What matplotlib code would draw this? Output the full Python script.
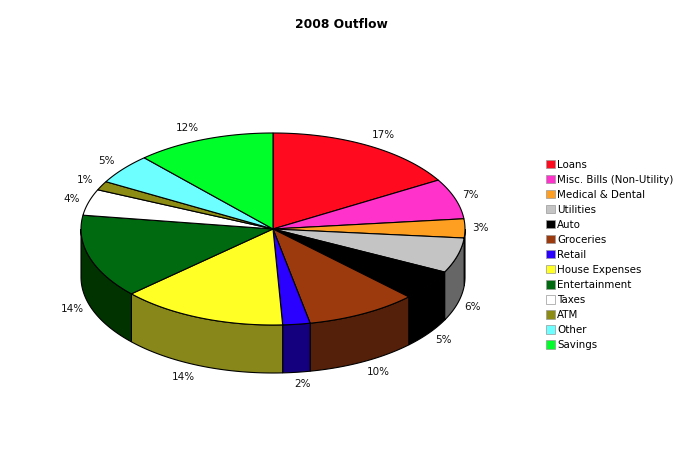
import numpy as np
import matplotlib
matplotlib.use('Agg')
import matplotlib.pyplot as plt
from matplotlib.patches import Patch

CATEGORIES = ['Loans', 'Misc. Bills (Non-Utility)', 'Medical & Dental', 'Utilities',
              'Auto', 'Groceries', 'Retail', 'House Expenses', 'Entertainment',
              'Taxes', 'ATM', 'Other', 'Savings']
# slice sizes, the printed labels are rounded differently
VALUES = [16.5, 6.8, 3.2, 5.9, 5.1, 9.4, 2.3, 14.0, 14.1, 4.4, 1.5, 5.1, 11.7]
LABELS = ['17%', '7%', '3%', '6%', '5%', '10%', '2%', '14%', '14%', '4%', '1%', '5%', '12%']
TOP_COLORS = ['#ff0a1e', '#ff33cc', '#ff9f22', '#c4c4c4', '#000000', '#9c3a0e', '#2a00ff',
              '#ffff26', '#006a10', '#ffffff', '#8c8c14', '#6dffff', '#00ff2a']
SIDE_COLORS = ['#7f0510', '#7f1a66', '#7f5011', '#666666', '#000000', '#55200a', '#14007f',
               '#88881a', '#003300', '#7f7f7f', '#46460a', '#367f7f', '#007f15']

CX, CY = 273, 229
RX, RY = 192, 96
DEPTH = 48
LABEL_GAP_X = 15
LABEL_GAP_Y = 12


def rim(theta):
    """Points on the top ellipse, theta clockwise from 12 o'clock (radians)."""
    return CX + RX * np.sin(theta), CY - RY * np.cos(theta)


fig = plt.figure(figsize=(6.83, 4.67), dpi=100)
ax = fig.add_axes([0, 0, 1, 1])
ax.set_xlim(0, 683)
ax.set_ylim(467, 0)
ax.axis('off')

edges = np.cumsum([0] + VALUES) / sum(VALUES) * 2 * np.pi

# side wall first, only the part of the rim that faces the viewer
for start, end, color in zip(edges[:-1], edges[1:], SIDE_COLORS):
    lo, hi = max(start, np.pi / 2), min(end, 3 * np.pi / 2)
    if lo >= hi:
        continue
    theta = np.linspace(lo, hi, 80)
    x, y = rim(theta)
    ax.fill(np.r_[x, x[::-1]], np.r_[y, y[::-1] + DEPTH],
            facecolor=color, edgecolor='black', linewidth=0.8, zorder=2)

for start, end, color in zip(edges[:-1], edges[1:], TOP_COLORS):
    theta = np.linspace(start, end, 120)
    x, y = rim(theta)
    ax.fill(np.r_[CX, x], np.r_[CY, y],
            facecolor=color, edgecolor='black', linewidth=0.8, zorder=3)

for start, end, label in zip(edges[:-1], edges[1:], LABELS):
    mid = (start + end) / 2
    # labels sit off the rim by a fixed sideways step, smaller near the bottom
    side = np.sin(mid)
    gap = LABEL_GAP_X if side > 0 else LABEL_GAP_X + 2
    lx = CX + RX * side + np.sign(side) * gap * min(1, abs(side) / 0.3)
    ly = CY - (RY + LABEL_GAP_Y) * np.cos(mid)
    if np.cos(mid) < 0:
        ly += DEPTH
    ax.text(lx, ly, label, fontsize=7.5, ha='center', va='center', color='#111111')

ax.text(341.5, 24, '2008 Outflow', fontsize=8.8, fontweight='bold', ha='center', va='center')

handles = [Patch(facecolor=c, edgecolor='#999999', linewidth=0.5) for c in TOP_COLORS]
ax.legend(handles, CATEGORIES, loc='upper left', bbox_to_anchor=(546 / 683, 1 - 159.5 / 467),
          bbox_transform=fig.transFigure, frameon=False, fontsize=7.4, borderpad=0,
          borderaxespad=0, handlelength=0.9, handleheight=0.9, handletextpad=0.2,
          labelspacing=0.49)

fig.savefig('out.png', dpi=100, facecolor='white')
